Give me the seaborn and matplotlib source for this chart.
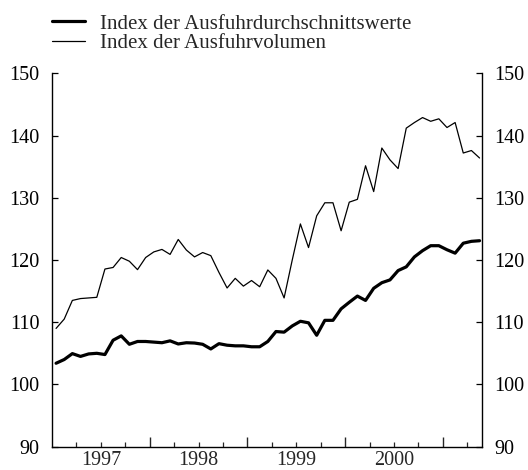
import numpy as np
import pandas as pd
import matplotlib
matplotlib.use("Agg")
import matplotlib.pyplot as plt
import seaborn as sns

# monthly values Jan 1997 - May 2001
start_year = 1997
durchschnittswerte = [
    103.4, 104.0, 104.95, 104.5, 104.9, 105.0, 104.8, 107.1, 107.8, 106.45,
    106.9, 106.9, 106.8, 106.7, 107.0, 106.5, 106.7, 106.65, 106.45, 105.7,
    106.55, 106.3, 106.2, 106.2, 106.05, 106.05, 106.9, 108.5, 108.4, 109.4,
    110.15, 109.9, 107.9, 110.3, 110.3, 112.15, 113.2, 114.2, 113.5, 115.45,
    116.35, 116.8, 118.3, 118.9, 120.5, 121.5, 122.3, 122.3, 121.65, 121.1,
    122.7, 123.0, 123.1,
]
volumen = [
    109.0, 110.5, 113.5, 113.8, 113.9, 114.0, 118.55, 118.8, 120.4, 119.8,
    118.45, 120.4, 121.3, 121.7, 120.9, 123.3, 121.6, 120.5, 121.2, 120.7,
    118.0, 115.5, 117.05, 115.8, 116.7, 115.7, 118.4, 117.05, 113.9, 120.0,
    125.8, 122.0, 127.1, 129.2, 129.2, 124.7, 129.3, 129.75, 135.15, 131.0,
    138.0, 136.1, 134.7, 141.2, 142.1, 142.9, 142.3, 142.7, 141.3, 142.1,
    137.2, 137.6, 136.4,
]
year_labels = ["1997", "1998", "1999", "2000"]
label_thick = "Index der Ausfuhrdurchschnittswerte"
label_thin = "Index der Ausfuhrvolumen"

n = len(volumen)
x = start_year + (np.arange(n) + 0.5) / 12
df = pd.DataFrame({"t": x, "avg": durchschnittswerte, "vol": volumen})

sns.set_style("ticks")
plt.rcParams["font.family"] = ["Liberation Serif", "DejaVu Serif"]

fig = plt.figure(figsize=(5.28, 4.7), dpi=100)
ax = fig.add_axes([52 / 528, 1 - 446.6 / 470, 430 / 528, 373.2 / 470])

sns.lineplot(data=df, x="t", y="avg", color="black", linewidth=2.3, ax=ax, label=label_thick)
sns.lineplot(data=df, x="t", y="vol", color="black", linewidth=0.9, ax=ax, label=label_thin)

ax.set_xlim(1997.0, 2001.40)
ax.set_ylim(90, 150)
ax.set_xlabel("")
ax.set_ylabel("")
ax.spines["top"].set_visible(False)
for s in ["left", "right", "bottom"]:
    ax.spines[s].set_linewidth(1.0)
    ax.spines[s].set_color("black")

ax.set_yticks(range(90, 151, 10))
ax.tick_params(axis="y", direction="in", length=4, width=0.9, left=True, right=True,
               labelleft=True, labelright=True, labelsize=14.5, pad=9, colors="black")

ax.set_xticks([1998, 1999, 2000, 2001])
ax.set_xticklabels([])
ax.set_xticks(np.arange(1997.25, 2001.4, 0.25), minor=True)
ax.tick_params(axis="x", which="major", direction="in", length=7, width=1.0)
ax.tick_params(axis="x", which="minor", direction="in", length=3.5, width=0.9)

sec = ax.secondary_xaxis("bottom")
sec.set_xticks([1997.5, 1998.5, 1999.5, 2000.5])
sec.set_xticklabels(year_labels)
sec.tick_params(length=0, labelsize=14.5, pad=3)
sec.spines["bottom"].set_visible(False)

ax.legend_.remove()
handles, labels = ax.get_legend_handles_labels()
fig.legend(handles, labels, loc="upper left", bbox_to_anchor=(52 / 528, 1 - 14 / 470),
           frameon=False, fontsize=15, handlelength=1.6, handletextpad=0.7,
           labelspacing=0.0, borderpad=0, borderaxespad=0)

fig.savefig("out.png", dpi=100, facecolor="white")
